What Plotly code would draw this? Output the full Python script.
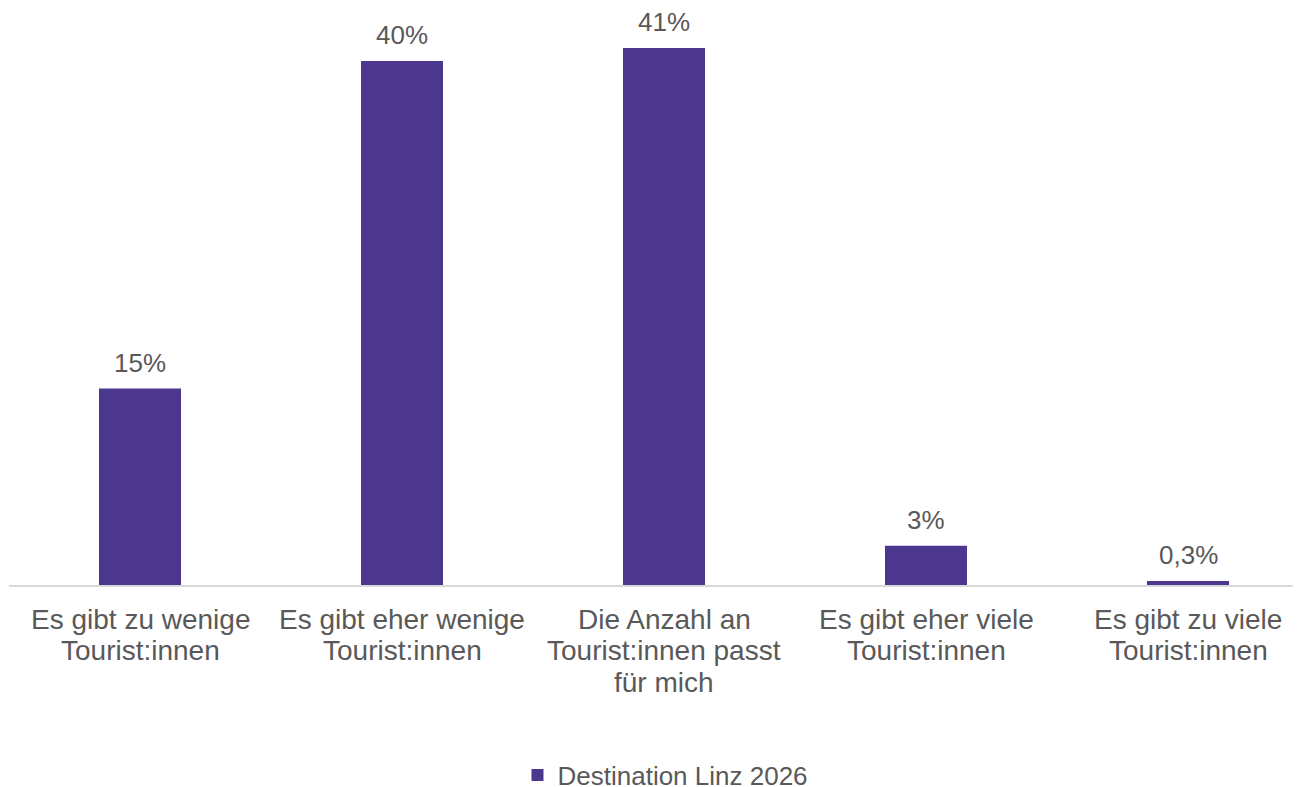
import plotly.graph_objects as go

categories = [
    "Es gibt zu wenige<br>Tourist:innen",
    "Es gibt eher wenige<br>Tourist:innen",
    "Die Anzahl an<br>Tourist:innen passt<br>für mich",
    "Es gibt eher viele<br>Tourist:innen",
    "Es gibt zu viele<br>Tourist:innen",
]
values = [15, 40, 41, 3, 0.3]
series_name = "Destination Linz 2026"

def fmt(v):
    s = ("%g" % v).replace(".", ",")
    return s + "%"

labels = [fmt(v) for v in values]

BAR = "#4B388E"
TXT = "#595959"
FONT = "Liberation Sans, Arial, sans-serif"

fig = go.Figure()
fig.add_trace(go.Bar(
    x=list(range(len(categories))),
    y=values,
    name=series_name,
    marker=dict(color=BAR, line=dict(width=0)),
    showlegend=True,
))

# value labels above bars
for i, (v, lab) in enumerate(zip(values, labels)):
    fig.add_annotation(
        x=i, y=v, text=lab, showarrow=False,
        yanchor="bottom", yshift=9,
        font=dict(family=FONT, size=26, color=TXT),
    )

# category labels (tighter line spacing than plotly's default)
for i, cat in enumerate(categories):
    for k, line in enumerate(cat.split("<br>")):
        fig.add_annotation(
            x=i, y=0, text=line, showarrow=False,
            yanchor="middle", yshift=-34 - 31.5 * k,
            font=dict(family=FONT, size=28, color=TXT),
        )

fig.update_layout(
    width=1301, height=787,
    margin=dict(l=1, r=0, t=2, b=210, autoexpand=False),
    paper_bgcolor="white", plot_bgcolor="white",
    bargap=0.687,
    font=dict(family=FONT, size=26, color=TXT),
    xaxis=dict(
        range=[-0.5, -0.5 + 1300 / 262],
        showline=True, linecolor="#D9D9D9", linewidth=1.5,
        showgrid=False, zeroline=False, ticks="",
        showticklabels=False,
        fixedrange=True,
    ),
    yaxis=dict(
        range=[0, 575 / 13.1],
        visible=False, showgrid=False, zeroline=False,
        fixedrange=True,
    ),
    legend=dict(
        orientation="h", x=0.505, xanchor="center", xref="paper",
        yref="container", y=1 - 767 / 787, yanchor="middle",
        font=dict(family=FONT, size=26, color=TXT),
        itemwidth=30,
    ),
)

fig.write_html("out.html")
